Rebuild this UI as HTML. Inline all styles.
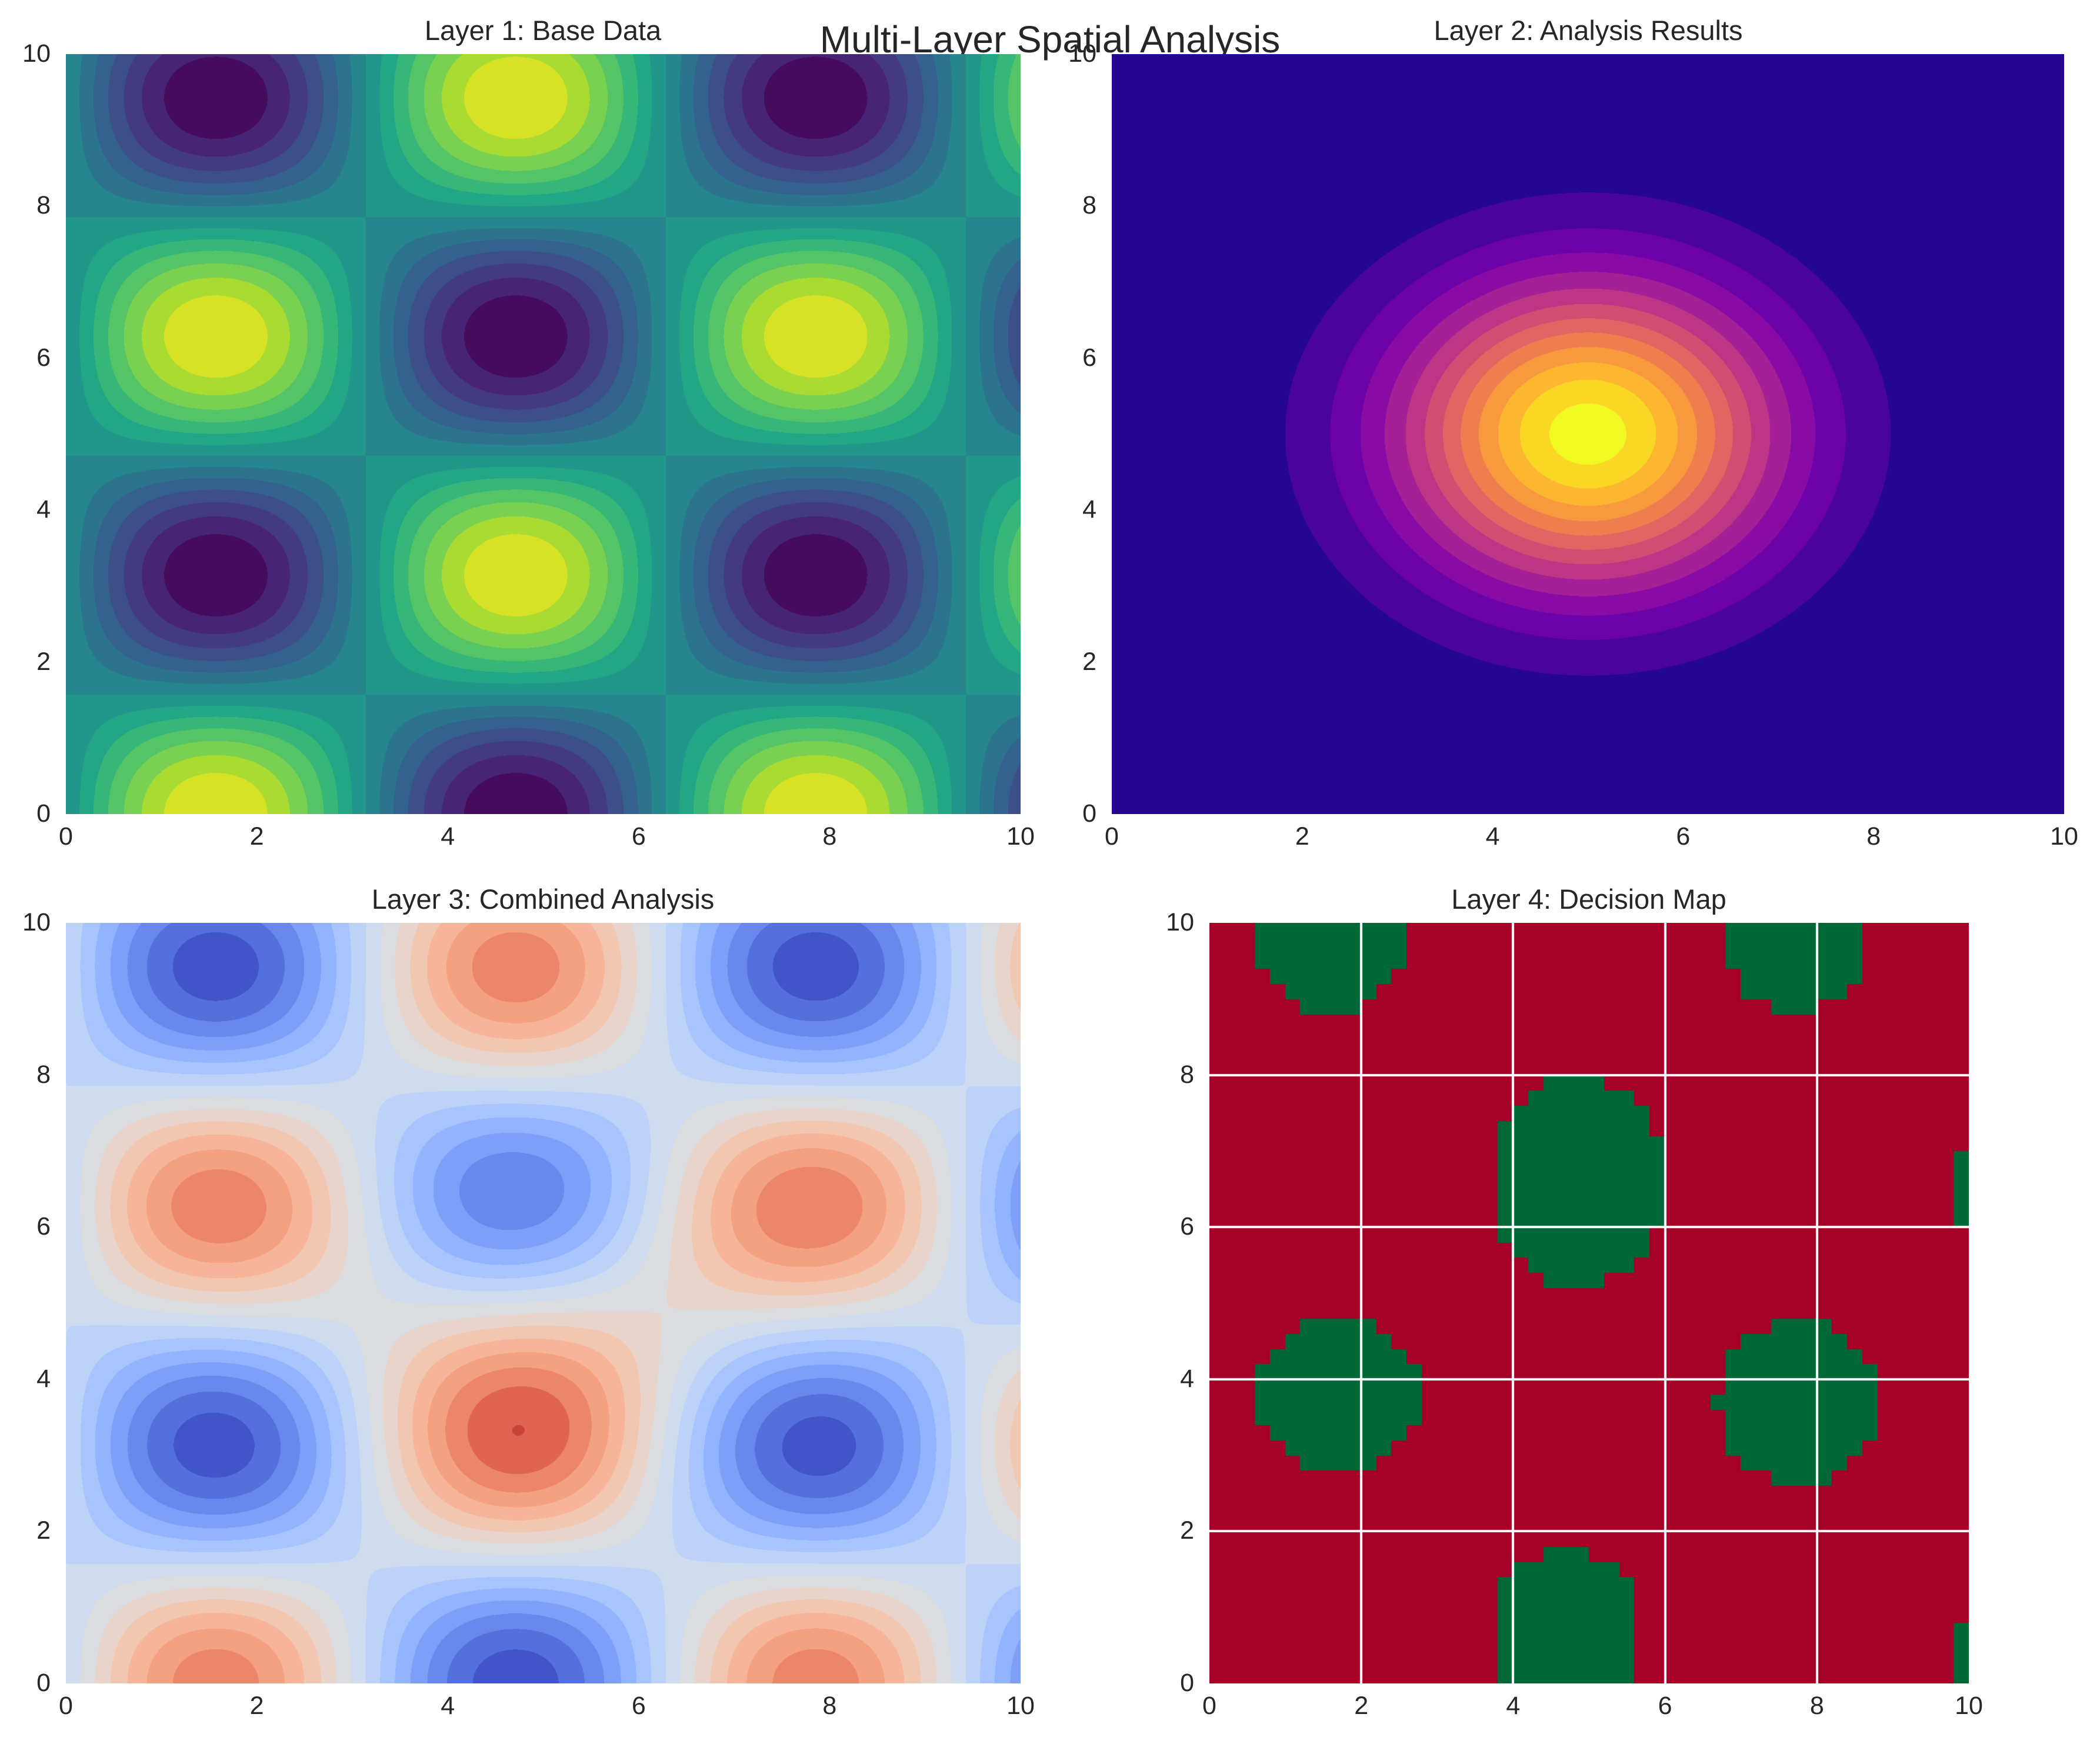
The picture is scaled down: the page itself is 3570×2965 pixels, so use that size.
<!DOCTYPE html>
<html><head><meta charset="utf-8"><style>
html,body{margin:0;padding:0;background:#fff;}
#w{position:relative;width:3570px;height:2965px;overflow:hidden;font-family:"Liberation Sans","DejaVu Sans",sans-serif;color:#262626;}
canvas{position:absolute;}
.t{position:absolute;font-size:43px;white-space:nowrap;}
.ti{position:absolute;font-size:47px;white-space:nowrap;transform:translateX(-50%);}
</style></head><body><div id="w">
<div class="ti" style="left:1785px;top:30px;font-size:64px;">Multi-Layer Spatial Analysis</div>
<div class="ti" style="left:923px;top:24px;">Layer 1: Base Data</div>
<div class="ti" style="left:2700px;top:24px;">Layer 2: Analysis Results</div>
<div class="ti" style="left:923px;top:1501px;">Layer 3: Combined Analysis</div>
<div class="ti" style="left:2701px;top:1501px;">Layer 4: Decision Map</div>
<canvas id="c1" width="1623" height="1292" style="left:112px;top:92px"></canvas>
<canvas id="c2" width="1619" height="1292" style="left:1890px;top:92px"></canvas>
<canvas id="c3" width="1623" height="1293" style="left:112px;top:1569px"></canvas>
<canvas id="c4" width="1291" height="1293" style="left:2056px;top:1569px"></canvas>
<div id="ticks"></div>
</div>
<script>
function hx(h){return [parseInt(h.substr(1,2),16),parseInt(h.substr(3,2),16),parseInt(h.substr(5,2),16)];}
function mk(a){var s=a.map(hx);return function(t){t=Math.max(0,Math.min(1,t));var f=t*(s.length-1),i=Math.min(s.length-2,Math.floor(f)),u=f-i;return [0,1,2].map(k=>Math.round(s[i][k]+(s[i+1][k]-s[i][k])*u));};}
var vir=mk(['#440154','#482475','#414487','#355f8d','#2a788e','#21918c','#22a884','#44bf70','#7ad151','#bddf26','#fde725']);
var pla=mk(['#0d0887','#41049d','#6a00a8','#8f0da4','#b12a90','#cc4778','#e16462','#f2844b','#fca636','#fcce25','#f0f921']);
var cw=mk(['#3b4cc0','#516ddb','#6a8bef','#84a7fc','#9ebeff','#b9d0f9','#d0dbef','#dddcdc','#efcfbf','#f6bba0','#f4a282','#eb8165','#d95847','#c0282f','#b40426']);
function g(x,y){return Math.exp(-((x-5)*(x-5)+(y-5)*(y-5))/4.0);}
function z1(x,y){return Math.sin(x)*Math.cos(y);}
function draw(id,f,lo,step,n,cm,c0,c1){var c=document.getElementById(id),W=c.width,H=c.height,ctx=c.getContext('2d'),im=ctx.createImageData(W,H),d=im.data;
var cols=[];for(var i=0;i<n;i++)cols.push(cm(c0+(c1-c0)*i/(n-1)));
for(var j=0;j<H;j++){var y=10*(1-(j+.5)/H);for(var i=0;i<W;i++){var x=10*(i+.5)/W;var v=f(x,y);var b=Math.floor((v-lo)/step);if(b<0)b=0;if(b>=n)b=n-1;var col=cols[b],p=(j*W+i)*4;d[p]=col[0];d[p+1]=col[1];d[p+2]=col[2];d[p+3]=255;}}
ctx.putImageData(im,0,0);}
draw('c1',z1,-1,2/14,14,vir,0.03,0.94);
draw('c2',g,0,0.08,13,pla,0.045,1);
draw('c3',function(x,y){return z1(x,y)+0.45*g(x,y);},-1.05,0.15,17,cw,0.02,0.95);
(function(){var c=document.getElementById('c4'),ctx=c.getContext('2d'),W=c.width,H=c.height;
var E=[[1.6,9.7,.95,.85],[7.75,9.7,.95,.85],[4.85,6.6,1.15,1.4],[1.7,3.8,1.1,1.0],[7.75,3.7,1.05,1.1],[4.7,0.6,1.0,1.2],[10.1,6.5,.3,.7],[10.1,0.3,.3,.55]];
for(var a=0;a<50;a++)for(var b=0;b<50;b++){var x=(a+.5)*0.2,y=(b+.5)*0.2,gr=false;E.forEach(function(e){var dx=(x-e[0])/e[2],dy=(y-e[1])/e[3];if(dx*dx+dy*dy<=1)gr=true;});
ctx.fillStyle=gr?'#006837':'#a50026';var x0=Math.floor(a*W/50),x1=Math.floor((a+1)*W/50),y0=Math.floor(H-(b+1)*H/50),y1=Math.floor(H-b*H/50);ctx.fillRect(x0,y0,x1-x0+1,y1-y0+1);}
ctx.fillStyle='#fff';for(var k=1;k<5;k++){var px=Math.round(k*W/5);ctx.fillRect(px-2,0,4,H);var py=Math.round(H-k*H/5);ctx.fillRect(0,py-2,W,4);}
})();
var T=document.getElementById('ticks'),h='';
function ax(l,r,t,b){for(var k=0;k<=5;k++){var px=l+(r-l)*k/5;h+='<div class="t" style="left:'+px+'px;top:'+(b+14)+'px;transform:translateX(-50%)">'+(2*k)+'</div>';var py=b-(b-t)*k/5;h+='<div class="t" style="right:'+(3570-l+26)+'px;top:'+(py-25)+'px">'+(2*k)+'</div>';}}
ax(112,1735,92,1384);ax(1890,3509,92,1384);ax(112,1735,1569,2862);ax(2056,3347,1569,2862);
T.innerHTML=h;
</script></body></html>
